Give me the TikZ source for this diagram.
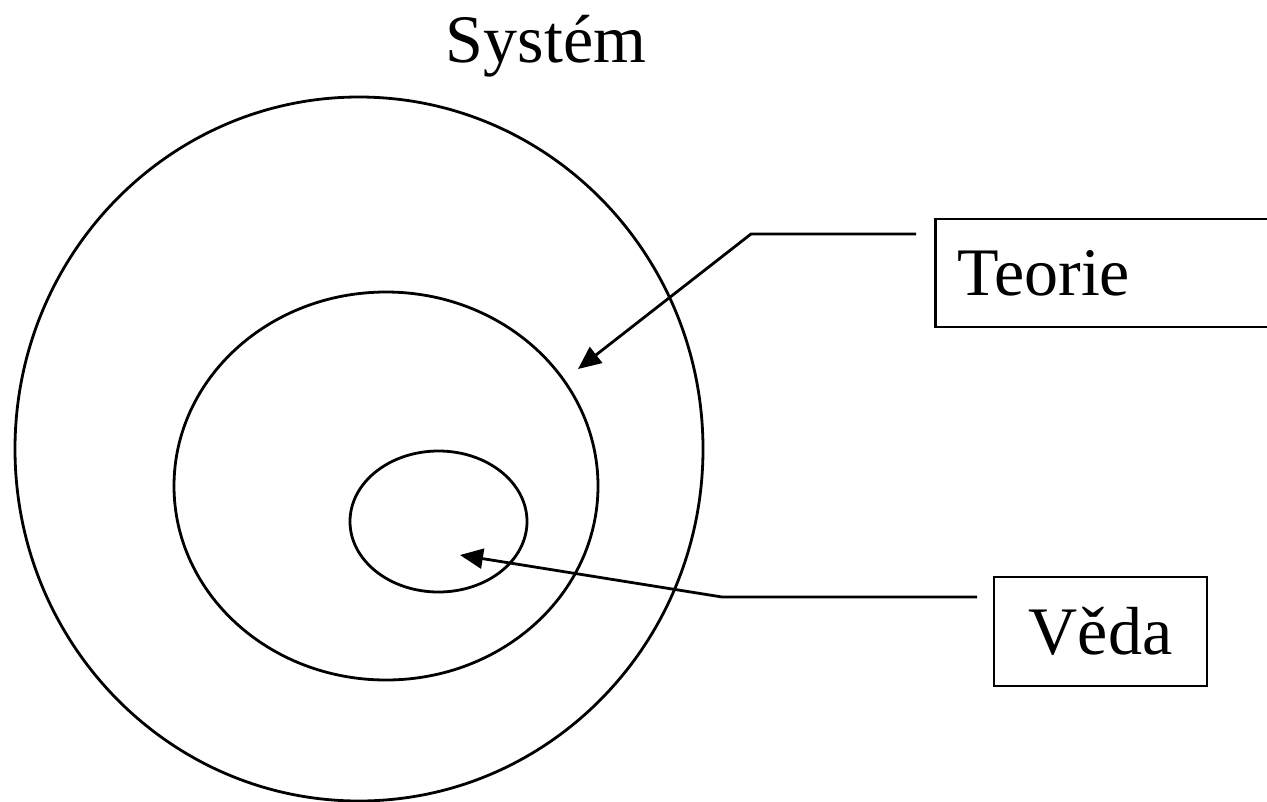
\documentclass[tikz,border=0pt]{standalone}
\usepackage{fontspec}
\setmainfont{Liberation Serif}
\usetikzlibrary{arrows.meta}
\tikzset{
  label box/.style={draw, line width=2.6pt, inner sep=0pt},
  pointer/.style={line width=2.8pt, -{Triangle[length=23pt,width=20pt]}}
}

\begin{document}
\begin{tikzpicture}[x=1pt, y=-1pt, line width=2.8pt]
      \useasboundingbox (0,0) rectangle (1267,801);
      \clip (0,0) rectangle (1267,801);
      % Draw the circles
      \draw (359,449) ellipse [x radius=344, y radius=352];
      \draw (386,486) ellipse [x radius=212, y radius=194];
      \draw (438.5,521.5) ellipse [x radius=88.5, y radius=70.5];
      % Title
      \node[anchor=base, font=\fontsize{68}{80}\selectfont] (system) at (546,62) {Systém};
      % Label boxes
      \node[label box, anchor=west, minimum height=108pt, text width=330pt, align=left, inner xsep=22pt,
            font=\fontsize{68}{80}\selectfont] (teorie) at (934,273) {Teorie};
      \node[label box, minimum width=213pt, minimum height=109pt,
            font=\fontsize{68}{80}\selectfont] (veda) at (1100.5,631.5) {Věda};
      % Connector points
      \coordinate (teorie end) at (916,234);
      \coordinate (teorie bend) at (751,234);
      \coordinate (teorie tip) at (578,369);
      \coordinate (veda end) at (977,597);
      \coordinate (veda bend) at (722,597);
      \coordinate (veda tip) at (460,555);
      % Add arrows
      \draw[pointer] (teorie end) -- (teorie bend) -- (teorie tip);
      \draw[pointer] (veda end) -- (veda bend) -- (veda tip);
    \end{tikzpicture}
\end{document}
